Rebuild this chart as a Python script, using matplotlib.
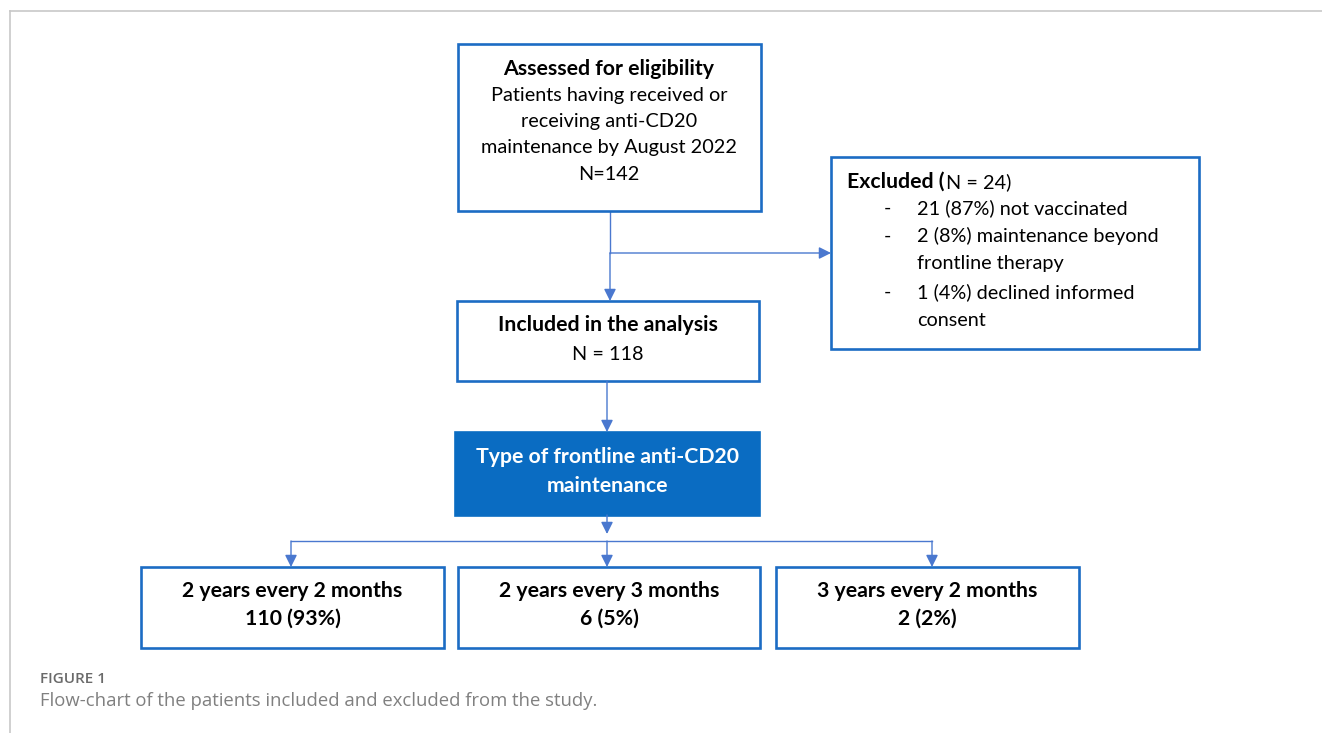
import matplotlib
matplotlib.use("Agg")
import matplotlib.pyplot as plt
from matplotlib.patches import Rectangle

# ---- content ----
top_title = "Assessed for eligibility"
top_lines = ["Patients having received or", "receiving anti-CD20",
             "maintenance by August 2022", "N=142"]
excl_title_bold = "Excluded ("
excl_title_reg = "N = 24)"
excl_items = [["21 (87%) not vaccinated"],
              ["2 (8%) maintenance beyond", "frontline therapy"],
              ["1 (4%) declined informed", "consent"]]
incl_title = "Included in the analysis"
incl_n = "N = 118"
type_lines = ["Type of frontline anti-CD20", "maintenance"]
schedules = ["2 years every 2 months", "2 years every 3 months", "3 years every 2 months"]
sched_counts = [110, 6, 2]
sched_pct = [93, 5, 2]
caption_head = "FIGURE 1"
caption_text = "Flow-chart of the patients included and excluded from the study."

W, H = 1322, 733
fig = plt.figure(figsize=(W / 100, H / 100), dpi=100)
ax = fig.add_axes([0, 0, 1, 1])
ax.set_xlim(0, W)
ax.set_ylim(H, 0)
ax.axis("off")

FONT = "Lato"
FS = 14.3
FSB = 15.3
BOX = "#1c6cc4"
ARR = "#4a78cf"
FILL = "#0a6cc2"

# outer frame
ax.plot([10, W], [11, 11], color="#c8c8c8", lw=1.2)
ax.plot([10, 10], [11, H], color="#c8c8c8", lw=1.2)


def box(x0, y0, x1, y1, filled=False):
    ax.add_patch(Rectangle((x0, y0), x1 - x0, y1 - y0,
                           facecolor=FILL if filled else "white",
                           edgecolor=FILL if filled else BOX,
                           lw=1.9, zorder=2))


def arrow(x0, y0, x1, y1):
    ax.annotate("", xy=(x1, y1), xytext=(x0, y0),
                arrowprops=dict(arrowstyle="-|>", color=ARR, lw=1.0,
                                mutation_scale=18, shrinkA=0, shrinkB=0),
                zorder=3)


def line(xs, ys):
    ax.plot(xs, ys, color=ARR, lw=1.0, zorder=1)


# top box
box(458, 44, 761, 211)
ax.text(609, 69, top_title, ha="center", va="center", fontsize=FSB,
        fontweight="bold", family=FONT, zorder=4)
for i, t in enumerate(top_lines):
    ax.text(609, 96 + 26 * i, t, ha="center", va="center", fontsize=FS,
            family=FONT, zorder=4)

# excluded box
box(831, 157, 1199, 349)
t1 = ax.text(847, 188, excl_title_bold, ha="left", va="baseline", fontsize=FSB,
             fontweight="bold", family=FONT, zorder=4)
renderer = fig.canvas.get_renderer()
bb = t1.get_window_extent(renderer=renderer)
x_end = ax.transData.inverted().transform((bb.x1, bb.y0))[0]
ax.text(x_end + 1, 188, excl_title_reg, ha="left", va="baseline",
        fontsize=FS, family=FONT, zorder=4)
y = 208
for item in excl_items:
    ax.text(884, y, "-", ha="left", va="center", fontsize=FS, family=FONT, zorder=4)
    for ln in item:
        ax.text(917, y, ln, ha="left", va="center", fontsize=FS, family=FONT, zorder=4)
        y += 28

# included box
box(457, 301, 759, 381)
ax.text(608, 325, incl_title, ha="center", va="center", fontsize=FSB,
        fontweight="bold", family=FONT, zorder=4)
ax.text(608, 355, incl_n, ha="center", va="center", fontsize=FS,
        family=FONT, zorder=4)

# type box
box(455, 432, 759, 515, filled=True)
for i, t in enumerate(type_lines):
    ax.text(607, 457 + 29 * i, t, ha="center", va="center", fontsize=FSB,
            fontweight="bold", family=FONT, color="white", zorder=4)

# bottom boxes
bx = [(141, 444), (458, 760), (776, 1079)]
ax_arrow_x = [291, 607, 932]
for (x0, x1), name, n, p in zip(bx, schedules, sched_counts, sched_pct):
    box(x0, 567, x1, 648)
    cx = (x0 + x1) / 2
    ax.text(cx, 591, name, ha="center", va="center", fontsize=FSB,
            fontweight="bold", family=FONT, zorder=4)
    ax.text(cx, 619, f"{n} ({p}%)", ha="center", va="center", fontsize=FSB,
            fontweight="bold", family=FONT, zorder=4)

# connectors
line([610, 610], [211, 253])
arrow(610, 253, 610, 301)
arrow(610, 253, 831, 253)
arrow(607, 381, 607, 432)
arrow(607, 515, 607, 534)
line([ax_arrow_x[0], ax_arrow_x[-1]], [541, 541])
for x in ax_arrow_x:
    arrow(x, 541, x, 567)

# caption
ax.text(40, 679, caption_head, ha="left", va="center", fontsize=11,
        family="Open Sans", color="#6a6a6a", fontweight="semibold")
ax.text(40, 701, caption_text, ha="left", va="center", fontsize=13.3,
        family="Open Sans", color="#808080")

fig.savefig("out.png", dpi=100)
